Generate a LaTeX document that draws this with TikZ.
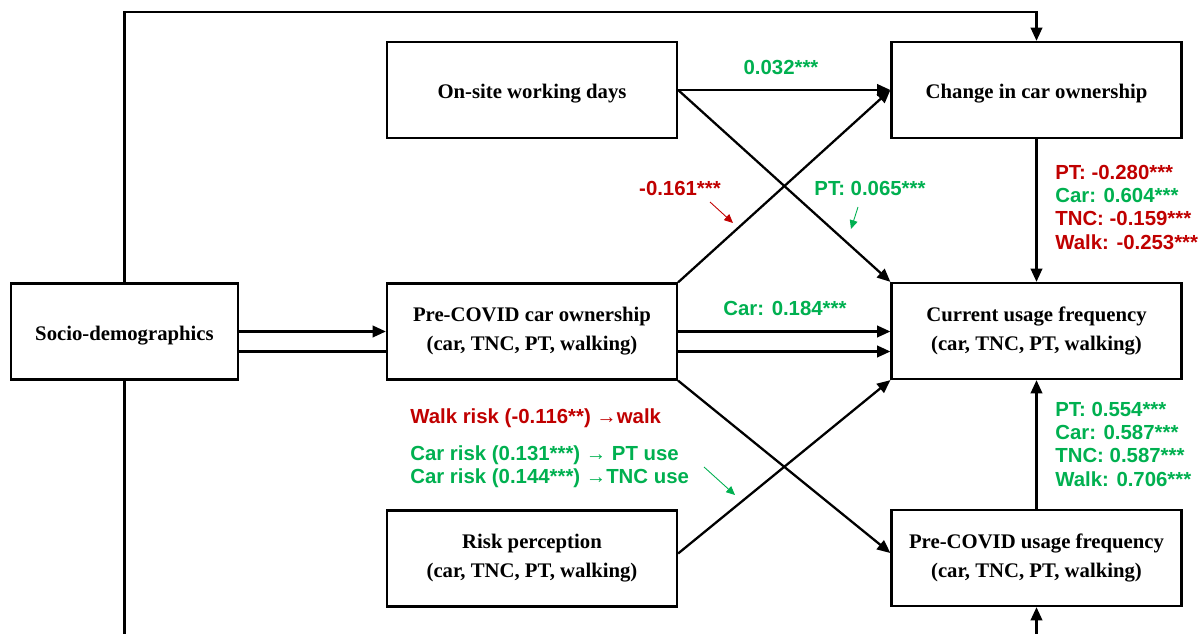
\documentclass[tikz,border=0pt]{standalone}
\usepackage{fontspec}
\setmainfont{Liberation Serif}
\newfontfamily\lblfont{Liberation Sans}
\usetikzlibrary{arrows.meta}
\definecolor{sigpos}{RGB}{0,176,80}
\definecolor{signeg}{RGB}{192,0,0}
\newcommand{\dropline}[1]{\raisebox{-2.2pt}[\height][\depth]{#1}}
\tikzset{
  varbox/.style={draw, line width=1.3pt, minimum width=5.8cm, minimum height=1.92cm,
    align=center, font=\fontsize{11.8}{16.6}\selectfont\bfseries},
  path/.style={line width=1.3pt, -{Triangle[length=7.5pt,width=6.5pt]}},
  coef/.style={font=\lblfont\fontsize{11.6}{13.2}\selectfont\bfseries, inner sep=0pt},
  pointer/.style={line width=0.5pt, -{Triangle[length=5pt,width=4.5pt]}}
}
\begin{document}
\begin{tikzpicture}[x=0.02cm, y=-0.02cm]
  \useasboundingbox (0, 0) rectangle (1201, 634);
  % Draw the variable boxes
  \node[varbox, minimum width=4.54cm] (socio) at (124.5, 331.5) {\dropline{Socio-demographics}};
  \node[varbox] (onsite) at (532, 90) {\dropline{On-site working days}};
  \node[varbox] (precar) at (532, 331.5) {Pre-COVID car ownership\\(car, TNC, PT, walking)};
  \node[varbox] (risk) at (532, 558.5) {Risk perception\\(car, TNC, PT, walking)};
  \node[varbox] (change) at (1036.5, 90) {\dropline{Change in car ownership}};
  \node[varbox] (current) at (1036.5, 331) {Current usage frequency\\(car, TNC, PT, walking)};
  \node[varbox] (preuse) at (1036.5, 558) {Pre-COVID usage frequency\\(car, TNC, PT, walking)};
  \coordinate (top) at (600, 12);
  \coordinate (bottom) at (600, 660);
  % Draw the paths between the boxes
  \begin{scope}[path]
    \draw (socio.north) |- (top) -| (change.north);
    \draw (socio.south) |- (bottom) -| (preuse.south);
    \draw (socio.east) -- (precar.west);
    \draw[-] ([yshift=-0.4cm]socio.east) -- ([yshift=-0.4cm]precar.west |- socio.east);
    \draw (onsite.east) -- (change.west);
    \draw (onsite.east) -- (current.north west);
    \draw (precar.north east) -- (change.west);
    \draw (precar.east) -- (current.west |- precar.east);
    \draw ([yshift=-0.4cm]precar.east) -- ([yshift=-0.4cm]current.west |- precar.east);
    \draw (precar.south east) -- ([yshift=0.1cm]preuse.west);
    \draw ([yshift=0.1cm]risk.east) -- (current.south west);
    \draw (change.south) -- (current.north);
    \draw (preuse.north) -- (current.south);
  \end{scope}
  % Coefficients on the paths
  \node[coef, text=sigpos] (c-onsite) at (781, 68) {0.032***};
  \node[coef, text=signeg] (c-owncar) at (680, 188) {-0.161***};
  \node[coef, text=sigpos] (c-onsitept) at (870, 188) {PT: 0.065***};
  \node[coef, text=sigpos] (c-carcur) at (785, 308) {Car: 0.184***};
  \node[coef, anchor=north west, align=left] (c-change) at (1055, 165)
    {\textcolor{signeg}{PT: -0.280***}\\\textcolor{sigpos}{Car: 0.604***}\\
     \textcolor{signeg}{TNC: -0.159***}\\\textcolor{signeg}{Walk: -0.253***}};
  \node[coef, anchor=north west, align=left, text=sigpos] (c-habit) at (1055, 402)
    {PT: 0.554***\\Car: 0.587***\\TNC: 0.587***\\Walk: 0.706***};
  \node[coef, anchor=west, text=signeg] (c-walkrisk) at (410, 418) {Walk risk (-0.116**) \textrightarrow walk};
  \node[coef, anchor=north west, align=left, text=sigpos] (c-carrisk) at (410, 445)
    {Car risk (0.131***) \textrightarrow{} PT use\\Car risk (0.144***) \textrightarrow TNC use};
  % Small pointers to the paths
  \coordinate (p-own) at (733, 223);
  \coordinate (p-pt) at (851, 229);
  \coordinate (p-risk) at (735, 495);
  \draw[pointer, signeg] (710, 202) -- (p-own);
  \draw[pointer, sigpos] (858, 207) -- (p-pt);
  \draw[pointer, sigpos] (704, 467) -- (p-risk);
\end{tikzpicture}
\end{document}
